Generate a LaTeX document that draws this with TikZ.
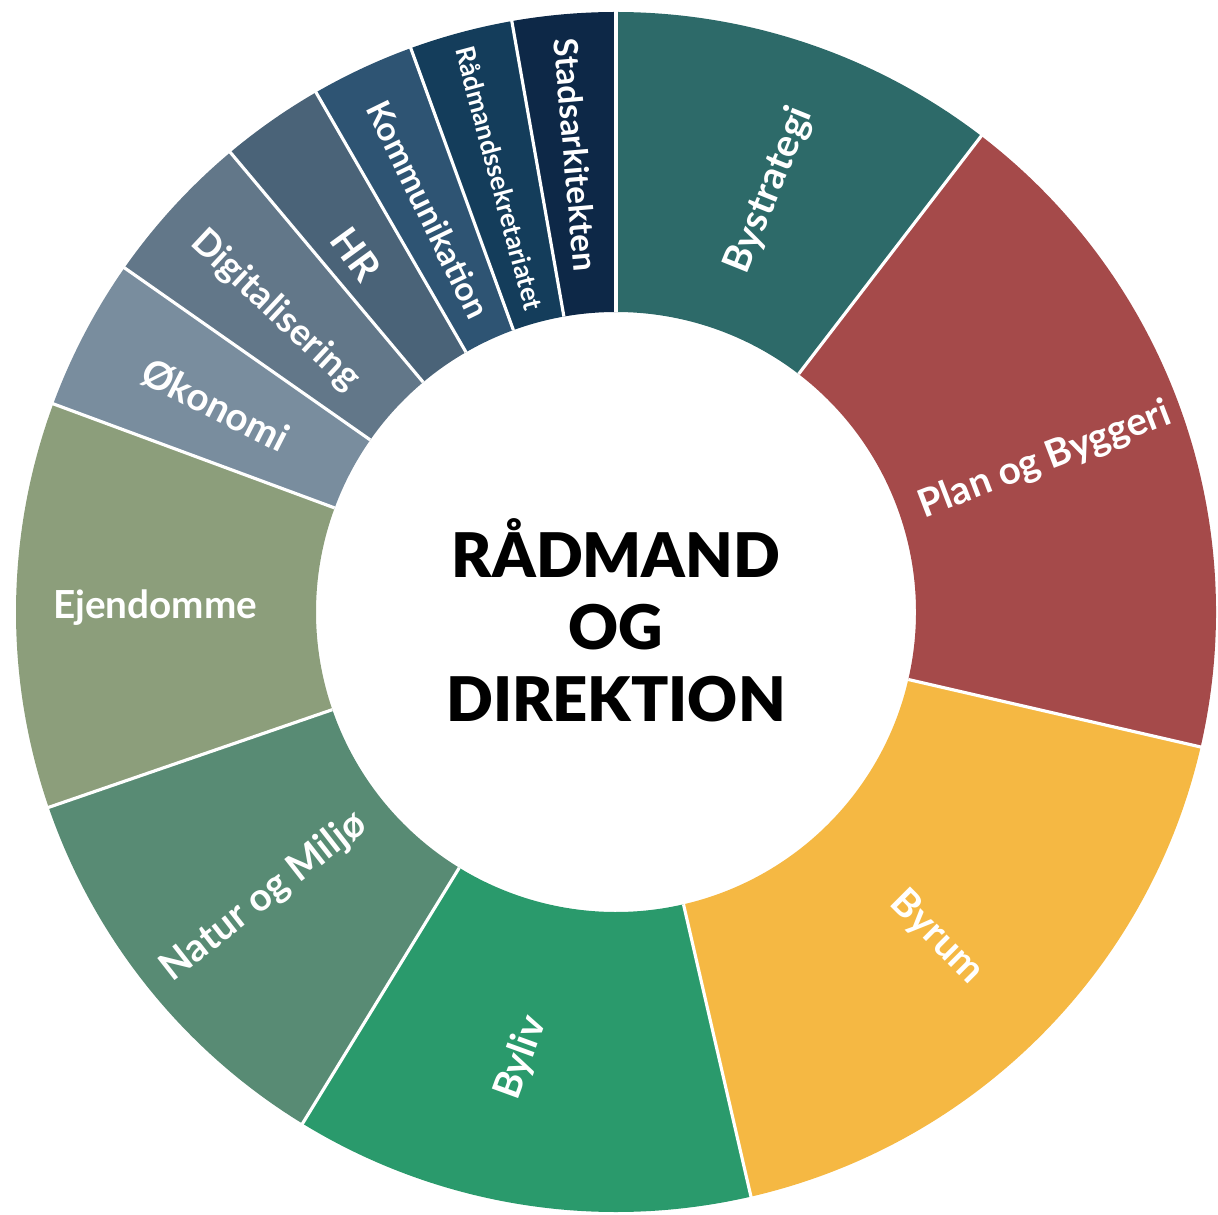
\documentclass[tikz,border=0pt]{standalone}
\usepackage{fontspec}
\setmainfont{Lato}
\newfontfamily\heavyfont{Lato Black}
\usepackage{tikz}

\definecolor{bystrategi}{HTML}{2D6A69}
\definecolor{planbyg}{HTML}{A54A4A}
\definecolor{byrum}{HTML}{F5B843}
\definecolor{byliv}{HTML}{2A9A6C}
\definecolor{natur}{HTML}{588B74}
\definecolor{ejendom}{HTML}{8C9E7B}
\definecolor{oekonomi}{HTML}{798D9E}
\definecolor{digital}{HTML}{627789}
\definecolor{hr}{HTML}{4A6378}
\definecolor{kommunik}{HTML}{2E5473}
\definecolor{raadsek}{HTML}{143D5B}
\definecolor{stads}{HTML}{0D2847}

\begin{document}
\begin{tikzpicture}[x=0.1mm, y=0.1mm,
  seglabel/.style={text=white, font=\fontsize{11}{13}\selectfont\bfseries, inner sep=0pt},
  sepline/.style={white, line width=0.9pt}]
  \useasboundingbox (-616,-602) rectangle (602,612);

  \coordinate (O) at (0,0);

  % ring segments, clockwise from the top
  \fill[bystrategi] (90:600) arc[start angle=90, end angle=52.5, radius=60mm] -- (52.5:300) arc[start angle=52.5, end angle=90, radius=30mm] -- cycle;
  \fill[planbyg] (52.5:600) arc[start angle=52.5, end angle=-13, radius=60mm] -- (-13:300) arc[start angle=-13, end angle=52.5, radius=30mm] -- cycle;
  \fill[byrum] (-13:600) arc[start angle=-13, end angle=-77, radius=60mm] -- (-77:300) arc[start angle=-77, end angle=-13, radius=30mm] -- cycle;
  \fill[byliv] (-77:600) arc[start angle=-77, end angle=-121.5, radius=60mm] -- (-121.5:300) arc[start angle=-121.5, end angle=-77, radius=30mm] -- cycle;
  \fill[natur] (-121.5:600) arc[start angle=-121.5, end angle=-161, radius=60mm] -- (-161:300) arc[start angle=-161, end angle=-121.5, radius=30mm] -- cycle;
  \fill[ejendom] (199:600) arc[start angle=199, end angle=159.7, radius=60mm] -- (159.7:300) arc[start angle=159.7, end angle=199, radius=30mm] -- cycle;
  \fill[oekonomi] (159.7:600) arc[start angle=159.7, end angle=145, radius=60mm] -- (145:300) arc[start angle=145, end angle=159.7, radius=30mm] -- cycle;
  \fill[digital] (145:600) arc[start angle=145, end angle=130, radius=60mm] -- (130:300) arc[start angle=130, end angle=145, radius=30mm] -- cycle;
  \fill[hr] (130:600) arc[start angle=130, end angle=120, radius=60mm] -- (120:300) arc[start angle=120, end angle=130, radius=30mm] -- cycle;
  \fill[kommunik] (120:600) arc[start angle=120, end angle=110, radius=60mm] -- (110:300) arc[start angle=110, end angle=120, radius=30mm] -- cycle;
  \fill[raadsek] (110:600) arc[start angle=110, end angle=100, radius=60mm] -- (100:300) arc[start angle=100, end angle=110, radius=30mm] -- cycle;
  \fill[stads] (100:600) arc[start angle=100, end angle=90, radius=60mm] -- (90:300) arc[start angle=90, end angle=100, radius=30mm] -- cycle;

  % white separators
  \draw[sepline] (90:300) -- (90:605);
  \draw[sepline] (52.5:300) -- (52.5:605);
  \draw[sepline] (-13:300) -- (-13:605);
  \draw[sepline] (-77:300) -- (-77:605);
  \draw[sepline] (-121.5:300) -- (-121.5:605);
  \draw[sepline] (199:300) -- (199:605);
  \draw[sepline] (159.7:300) -- (159.7:605);
  \draw[sepline] (145:300) -- (145:605);
  \draw[sepline] (130:300) -- (130:605);
  \draw[sepline] (120:300) -- (120:605);
  \draw[sepline] (110:300) -- (110:605);
  \draw[sepline] (100:300) -- (100:605);

  % labels
  \node[seglabel, rotate=68] (bystrategi) at (70:449) {Bystrategi};
  \node[seglabel, rotate=21] (planbyg) at (19.5:455) {Plan og Byggeri};
  \node[seglabel, rotate=-45] (byrum) at (-45.4:457) {Byrum};
  \node[seglabel, rotate=70] (byliv) at (-102:456) {Byliv};
  \node[seglabel, rotate=38] (natur) at (219:453) {Natur og Miljø};
  \node[seglabel] (ejendom) at (179.4:461) {Ejendomme};
  \node[seglabel, rotate=-27] (oekonomi) at (152.7:451) {Økonomi};
  \node[seglabel, rotate=-43, font=\fontsize{10.5}{12}\selectfont\bfseries] (digital) at (138.5:455) {Digitalisering};
  \node[seglabel, rotate=-54] (hr) at (126:442) {HR};
  \node[seglabel, rotate=-64, font=\fontsize{9.5}{11}\selectfont\bfseries] (kommunik) at (115:444) {Kommunikation};
  \node[seglabel, rotate=-75, font=\fontsize{7.5}{9}\selectfont\bfseries] (raadsek) at (105:449) {Rådmandssekretariatet};
  \node[seglabel, rotate=-85, font=\fontsize{9.5}{11}\selectfont\bfseries] (stads) at (95:459) {Stadsarkitekten};

  \node[align=center, font=\heavyfont\fontsize{17.5}{20.5}\selectfont] (center) at (0,-8) {RÅDMAND\\OG\\DIREKTION};
\end{tikzpicture}
\end{document}
